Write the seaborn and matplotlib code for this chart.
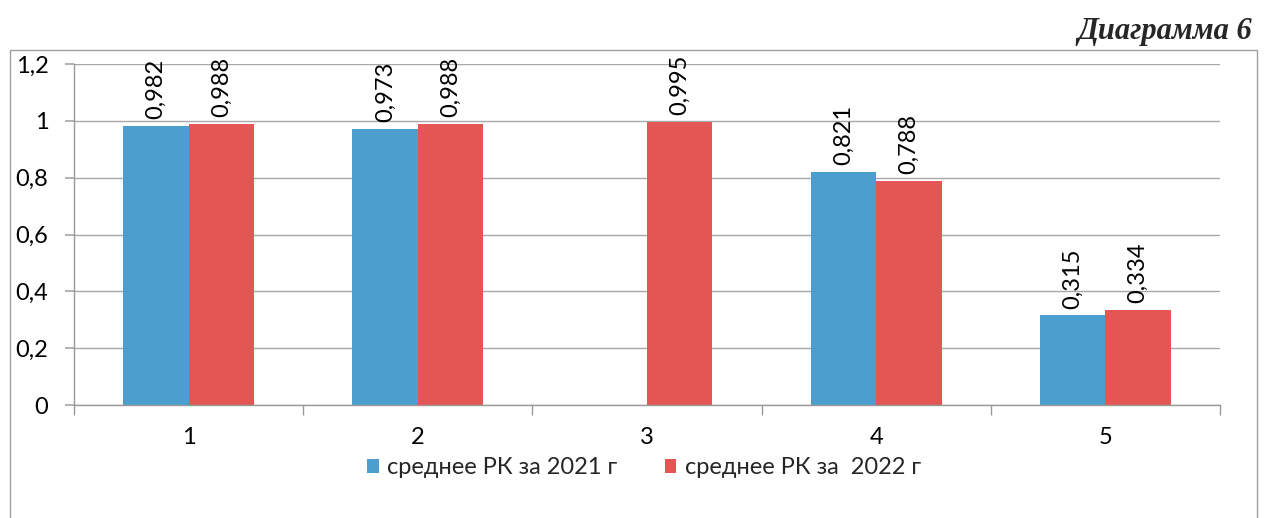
import matplotlib
matplotlib.use("Agg")
import matplotlib.pyplot as plt
from matplotlib.patches import Rectangle, Patch
from matplotlib.ticker import FixedLocator, FuncFormatter
import seaborn as sns
import pandas as pd
import numpy as np

categories = ["1", "2", "3", "4", "5"]
series_names = ["среднее РК за 2021 г", "среднее РК за  2022 г"]
values_2021 = [0.982, 0.973, np.nan, 0.821, 0.315]
values_2022 = [0.988, 0.988, 0.995, 0.788, 0.334]
y_ticks = [0, 0.2, 0.4, 0.6, 0.8, 1.0, 1.2]
title_text = "Диаграмма 6"

colors = ["#4B9ECE", "#E35654"]

sns.set_theme(style="white")
plt.rcParams['font.family'] = ['Lato', 'DejaVu Sans']

df = pd.DataFrame({
    "cat": categories * 2,
    "series": [series_names[0]] * 5 + [series_names[1]] * 5,
    "value": values_2021 + values_2022,
})

fig = plt.figure(figsize=(12.64, 5.18), dpi=100)
ax = fig.add_axes([74 / 1264, 1 - 405 / 518, (1220 - 74) / 1264, (405 - 64) / 518])

sns.barplot(data=df, x="cat", y="value", hue="series", order=categories,
            hue_order=series_names, palette=colors, width=0.57, gap=0,
            saturation=1, ax=ax, legend=False, edgecolor="none")

fmt = lambda v: f"{v:.3f}".replace(".", ",")
for cont in ax.containers:
    ax.bar_label(cont, fmt=fmt, rotation=90, padding=5, fontsize=17, color="black")

ax.set_xlim(-0.5, 4.5)
ax.set_ylim(0, 1.2)
ax.set_xlabel("")
ax.set_ylabel("")
ax.yaxis.set_major_locator(FixedLocator(y_ticks))
ax.yaxis.set_major_formatter(FuncFormatter(lambda v, p: (f"{v:.1f}".rstrip("0").rstrip(".")).replace(".", ",")))
ax.yaxis.grid(True, color="#a8a8a8", linewidth=1)
ax.set_axisbelow(True)
for s in ["top", "right"]:
    ax.spines[s].set_visible(False)
for s in ["left", "bottom"]:
    ax.spines[s].set_color("#999999")
    ax.spines[s].set_linewidth(1)
ax.tick_params(axis="y", which="major", length=6.5, color="#a8a8a8", left=True,
               labelsize=17, pad=12, labelcolor="black")
ax.tick_params(axis="x", which="major", length=0, labelsize=17, pad=16, labelcolor="black")
ax.xaxis.set_minor_locator(FixedLocator(np.arange(-0.5, 5, 1.0)))
ax.tick_params(axis="x", which="minor", length=7, color="#999999", bottom=True)

handles = [Patch(facecolor=c, edgecolor="none") for c in colors]
fig.legend(handles, series_names, loc="center", bbox_to_anchor=(644 / 1264, 1 - 468 / 518),
           ncol=2, frameon=False, fontsize=17, handlelength=0.5, handleheight=0.5,
           handletextpad=0.35, columnspacing=2.0)

fig.patches.append(Rectangle((10 / 1264, -0.01), (1257 - 10) / 1264, 1.01 - 50 / 518 + 0.0,
                             transform=fig.transFigure, fill=False, edgecolor="#a0a0a0",
                             linewidth=1))

fig.text(1252 / 1264, 1 - 32 / 518, title_text, ha="right", va="center",
         fontsize=22, fontweight="bold", fontstyle="italic", family="Liberation Serif")

fig.savefig("out.png", dpi=100, facecolor="white")
